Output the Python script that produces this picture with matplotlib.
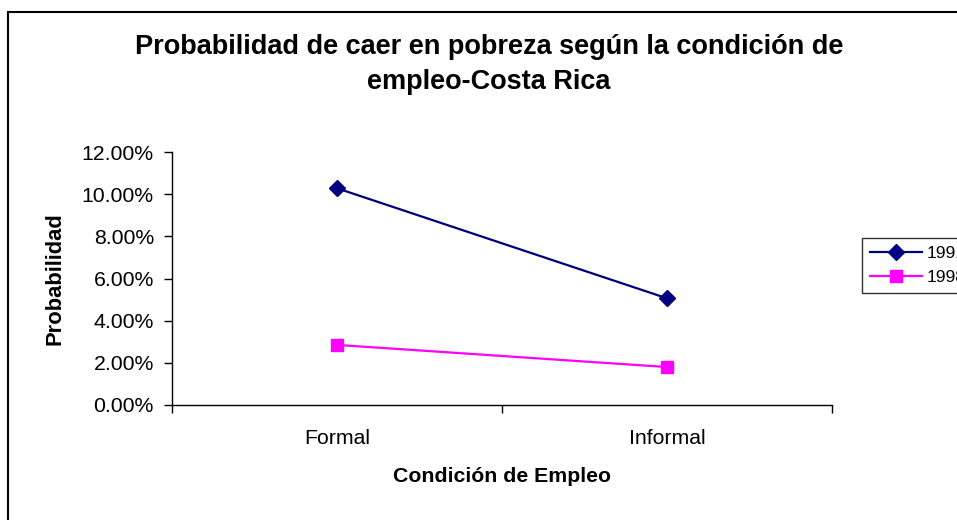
import matplotlib
matplotlib.use("Agg")
import matplotlib.pyplot as plt
from matplotlib.patches import Rectangle
from matplotlib.ticker import FuncFormatter, FixedLocator

plt.rcParams['font.family'] = ['Liberation Sans', 'DejaVu Sans']

categories = ["Formal", "Informal"]
series_names = ["1991", "1998"]
values_1991 = [0.1028, 0.0506]
values_1998 = [0.0285, 0.0180]

W, H = 957, 520
fig = plt.figure(figsize=(W / 100, H / 100), dpi=100)
ax = fig.add_axes([172 / W, (H - 405) / H, (832 - 172) / W, (405 - 152) / H])

x = list(range(len(categories)))
ax.plot(x, values_1991, color="#000080", marker="D", markersize=8, linewidth=1.6,
        label=series_names[0], clip_on=False)
ax.plot(x, values_1998, color="#FF00FF", marker="s", markersize=8, linewidth=1.6,
        label=series_names[1], clip_on=False)

ax.set_xlim(-0.5, len(categories) - 0.5)
ax.set_ylim(0, 0.12)
ax.set_yticks([i * 0.02 for i in range(7)])
ax.yaxis.set_major_formatter(FuncFormatter(lambda v, p: f"{v * 100:.2f}%"))
ax.xaxis.set_major_locator(FixedLocator([-0.5, 0.5, 1.5]))
ax.xaxis.set_major_formatter(FuncFormatter(lambda v, p: ""))
ax.set_xticks(x, minor=True)
ax.set_xticklabels(categories, minor=True)
ax.tick_params(axis="x", which="minor", length=0, pad=17, labelsize=15.3)
ax.tick_params(axis="x", which="major", length=6, direction="out", width=1)
ax.tick_params(axis="y", length=6, direction="out", width=1, labelsize=15.3, pad=7)

for s in ["top", "right"]:
    ax.spines[s].set_visible(False)
for s in ["left", "bottom"]:
    ax.spines[s].set_linewidth(1)

ax.set_xlabel("Condición de Empleo", fontsize=15.3, fontweight="bold", labelpad=14)
ax.set_ylabel("Probabilidad", fontsize=15.8, fontweight="bold", labelpad=12)

fig.text(489 / W, 1 - 64.5 / H, "Probabilidad de caer en pobreza según la condición de\nempleo-Costa Rica",
         ha="center", va="center", fontsize=19.5, fontweight="bold", linespacing=1.42)

leg = fig.legend(loc="upper left", bbox_to_anchor=(862 / W, 1 - 238 / H), borderaxespad=0,
                 fontsize=12.5, frameon=True, fancybox=False, handlelength=3.0,
                 handletextpad=0.3, borderpad=0.45, labelspacing=0.5, markerscale=1.0)
leg.get_frame().set_edgecolor("black")
leg.get_frame().set_linewidth(1)

border = Rectangle((8 / W, -0.1), 1.2, 1 - 12 / H + 0.1, transform=fig.transFigure,
                   fill=False, edgecolor="black", linewidth=1.5, clip_on=False)
fig.patches.append(border)

fig.savefig("out.png", dpi=100)
